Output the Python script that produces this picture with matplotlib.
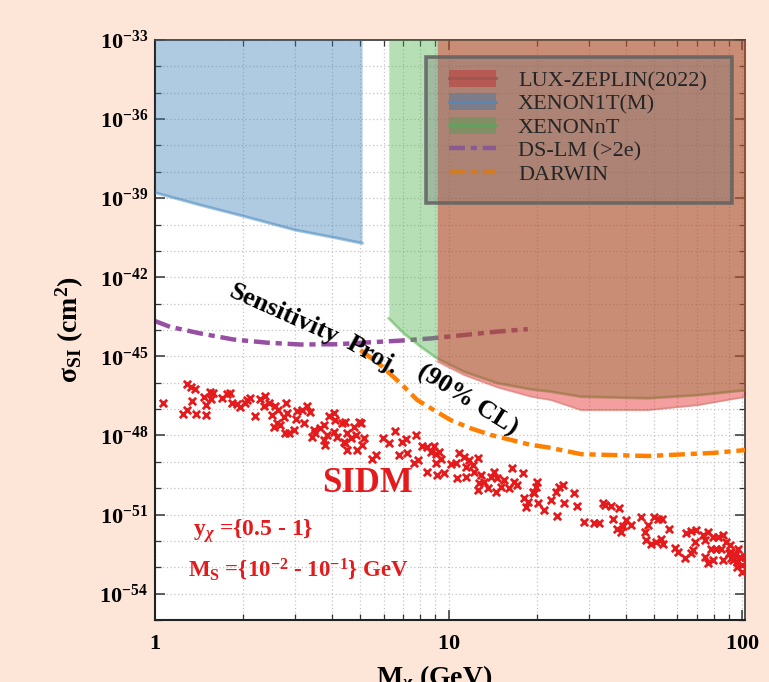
import numpy as np
import matplotlib
matplotlib.use('Agg')
import matplotlib.pyplot as plt
from matplotlib.patches import Patch, Rectangle
from matplotlib.lines import Line2D
from matplotlib.ticker import FixedLocator, NullFormatter, FuncFormatter

plt.rcParams['font.family'] = ['Liberation Serif', 'DejaVu Serif']
plt.rcParams['mathtext.fontset'] = 'custom'
plt.rcParams['mathtext.rm'] = 'Liberation Serif'
plt.rcParams['mathtext.it'] = 'Liberation Serif:italic:bold'
plt.rcParams['mathtext.bf'] = 'Liberation Serif:bold'

# ---------------- data ----------------
xenon1t_mass = [1.0, 1.426, 2.028, 3.006, 4.064, 5.07]
xenon1t_logsig = [-38.79, -39.26, -39.70, -40.21, -40.49, -40.71]

xenonnt_mass = [6.25, 7.03, 8.02, 9.14, 11.27, 14.66, 19.05, 22.28, 28.18, 47.64, 70.63, 103.3]
xenonnt_logsig = [-43.56, -44.13, -44.63, -45.08, -45.58, -46.02, -46.25, -46.34, -46.53, -46.59, -46.47, -46.28]

lz_mass = [9.14, 11.27, 14.66, 19.05, 22.28, 28.18, 47.64, 70.63, 103.3]
lz_logsig = [-45.20, -45.71, -46.18, -46.53, -46.66, -47.04, -47.04, -46.85, -46.53]

dslm_mass = [1.0, 1.125, 1.426, 1.849, 2.404, 3.126, 4.169, 5.14, 6.683, 8.69, 11.27, 14.66, 18.58]
dslm_logsig = [-43.66, -43.88, -44.13, -44.36, -44.48, -44.55, -44.54, -44.48, -44.41, -44.32, -44.19, -44.06, -43.97]

darwin_mass = [5.01, 5.86, 6.85, 7.82, 8.91, 10.16, 11.89, 13.9, 16.29, 19.05, 21.73, 28.25, 47.64, 80.17, 103.3]
darwin_logsig = [-44.76, -45.33, -46.02, -46.66, -47.04, -47.42, -47.73, -47.98, -48.17, -48.36, -48.45, -48.71, -48.78, -48.66, -48.55]

sidm_logmass = [
    0.026, 0.110, 0.122, 0.137, 0.125, 0.097, 0.110, 0.139, 0.173, 0.173,
    0.168, 0.188, 0.199, 0.191, 0.228, 0.245, 0.256, 0.262, 0.279, 0.290,
    0.307, 0.313, 0.322, 0.341, 0.358, 0.375, 0.370, 0.387, 0.398, 0.410,
    0.419, 0.415, 0.404, 0.427, 0.438, 0.447, 0.449, 0.444, 0.455, 0.472,
    0.480, 0.484, 0.501, 0.506, 0.518, 0.527, 0.540, 0.535, 0.546, 0.563,
    0.574, 0.574, 0.586, 0.591, 0.609, 0.614, 0.609, 0.620, 0.637, 0.648,
    0.654, 0.643, 0.654, 0.580,
    0.648, 0.666, 0.683, 0.677, 0.694, 0.702, 0.705, 0.688, 0.711, 0.777,
    0.796, 0.816, 0.842, 0.853, 0.887, 0.859, 0.830, 0.751, 0.740, 0.882,
    0.895, 0.910, 0.925, 0.939, 0.950, 0.956, 0.967, 0.973, 0.956, 0.925,
    0.961, 0.984, 1.007, 1.024, 1.027, 1.058, 1.035, 1.052, 1.069, 1.058,
    1.081, 1.098, 1.086, 1.109, 1.103, 1.098, 1.120, 1.132, 1.143, 1.155,
    1.166, 1.160, 1.177, 1.189, 1.206, 1.217, 1.223, 1.234, 1.252, 1.257,
    1.269, 1.286, 1.297, 1.263,
    1.300, 1.303, 1.291, 1.323, 1.348, 1.365, 1.376, 1.390, 1.394, 1.369,
    1.428, 1.437, 1.460, 1.494, 1.513, 1.525, 1.532, 1.553, 1.581, 1.559,
    1.573, 1.593, 1.604, 1.621, 1.587, 1.655, 1.667, 1.680, 1.672, 1.699,
    1.712, 1.727, 1.689, 1.706, 1.724, 1.729, 1.749, 1.769, 1.781, 1.803,
    1.809, 1.826, 1.843, 1.837, 1.832, 1.824, 1.866, 1.871, 1.883, 1.900,
    1.917, 1.934, 1.894, 1.911, 1.928, 1.871, 1.883, 1.900, 1.934, 1.945,
    1.957, 1.962, 1.974, 1.968, 1.980, 1.985, 1.991, 1.997, 1.997, 2.008,
    1.980, 1.962, 1.953,
]
sidm_logsig = [
    -46.76, -46.05, -46.15, -46.25, -46.68, -47.19, -47.04, -47.19, -47.23, -46.85,
    -46.53, -46.34, -46.40, -46.63, -46.59, -46.43, -46.38, -46.78, -46.82, -46.91,
    -46.78, -46.66, -46.58, -47.25, -46.63, -46.51, -46.89, -46.78, -47.23, -46.89,
    -47.04, -47.54, -47.69, -47.61, -47.29, -46.78, -47.16, -47.90, -47.92, -47.80,
    -47.39, -47.06, -47.04, -47.52, -46.89, -47.10, -47.80, -48.05, -47.92, -47.73,
    -47.61, -48.18, -47.99, -47.27, -47.16, -47.42, -47.86, -48.05, -47.54, -47.48,
    -47.92, -48.24, -48.56, -48.37,
    -48.30, -48.11, -47.99, -47.67, -47.48, -47.54, -48.37, -48.56, -48.11, -48.11,
    -48.30, -47.82, -48.24, -48.15, -47.99, -48.66, -48.74, -48.74, -48.91, -49.04,
    -48.93, -48.40, -48.43, -48.62, -48.40, -48.71, -48.62, -48.91, -49.04, -49.38,
    -49.50, -49.44, -49.09, -49.06, -49.63, -49.57, -48.68, -48.81, -48.93, -49.19,
    -49.13, -48.87, -49.38, -49.50, -49.82, -50.07, -49.76, -50.01, -49.57, -49.38,
    -49.63, -50.14, -49.95, -49.69, -50.01, -49.25, -49.76, -49.88, -49.44, -50.39,
    -50.52, -50.14, -49.95, -50.71,
    -49.76, -50.58, -50.20, -50.81, -50.45, -50.14, -49.95, -49.88, -50.58, -51.05,
    -50.18, -50.68, -51.28, -51.31, -51.31, -50.55, -50.62, -50.68, -50.74, -51.15,
    -51.56, -51.44, -51.21, -51.40, -51.65, -51.09, -51.65, -51.40, -51.97, -51.09,
    -51.18, -51.18, -52.10, -52.03, -51.91, -52.10, -51.56, -52.25, -52.41, -52.63,
    -51.69, -51.63, -51.59, -52.03, -52.35, -52.47, -51.78, -51.97, -51.65, -51.84,
    -51.84, -51.78, -52.29, -52.29, -52.29, -52.60, -52.85, -52.73, -52.73, -52.03,
    -52.16, -52.41, -52.54, -52.73, -52.79, -52.29, -52.60, -52.92, -53.17, -52.60,
    -52.98, -52.66, -52.45,
]

y_major_exp = [-54, -51, -48, -45, -42, -39, -36, -33]
x_major = [1, 10, 100]
legend_labels = ['LUX-ZEPLIN(2022)', 'XENON1T(M)', 'XENONnT', 'DS-LM (>2e)', 'DARWIN']

# ---------------- colours ----------------
C_RED = '#e41a1c'
C_BLUE = '#377eb8'
C_GREEN = '#4daf4a'
C_PURPLE = '#984ea3'
C_ORANGE = '#ff7f00'
BG = '#fde5d8'

W, H = 769, 682
fig = plt.figure(figsize=(W / 100, H / 100), dpi=100, facecolor=BG)
ax = fig.add_axes([155 / W, 1 - 620 / H, 590 / W, 580 / H])
ax.set_facecolor('white')
ax.set_xscale('log')
ax.set_yscale('log')
ax.set_xlim(1, 102)
ax.set_ylim(1e-55, 1e-33)

top = 1e-33
pw = lambda a: 10.0 ** np.asarray(a)

dash = (3.6, 1.3, 1.4, 1.3)
# DS-LM line (under the filled regions)
ax.plot(dslm_mass, pw(dslm_logsig), color=C_PURPLE, lw=3.2, dashes=dash, zorder=2)

# XENON1T(M)
ax.fill_between(xenon1t_mass, pw(xenon1t_logsig), top, color=C_BLUE, alpha=0.4, lw=0, zorder=3)
ax.plot(xenon1t_mass, pw(xenon1t_logsig), color=C_BLUE, alpha=0.45, lw=2.2, zorder=3)
# XENONnT
ax.fill_between(xenonnt_mass, pw(xenonnt_logsig), top, color=C_GREEN, alpha=0.4, lw=0, zorder=3)
ax.plot(xenonnt_mass, pw(xenonnt_logsig), color=C_GREEN, alpha=0.5, lw=2.0, zorder=3)
# LUX-ZEPLIN
ax.fill_between(lz_mass, pw(lz_logsig), top, color=C_RED, alpha=0.42, lw=0, zorder=3.1)
ax.plot(lz_mass, pw(lz_logsig), color='#c06050', alpha=0.35, lw=1.5, zorder=3.1)

# DARWIN
ax.plot(darwin_mass, pw(darwin_logsig), color=C_ORANGE, lw=3.2, dashes=dash, zorder=4)

# SIDM scatter
ax.scatter(pw(sidm_logmass), pw(sidm_logsig), marker='x', s=28, color=C_RED, linewidths=2.0, zorder=5)

# ---------------- axes styling ----------------
ax.xaxis.set_major_locator(FixedLocator(x_major))
minor_x = [m * d for d in (1, 10) for m in range(2, 10)] + [200]
ax.xaxis.set_minor_locator(FixedLocator(minor_x))
ax.xaxis.set_major_formatter(FuncFormatter(lambda v, p: r'$\mathbf{%d}$' % round(v)))
ax.xaxis.set_minor_formatter(NullFormatter())
ax.yaxis.set_major_locator(FixedLocator(pw(y_major_exp)))
minor_y = [e for e in range(-55, -32) if e not in y_major_exp]
ax.yaxis.set_minor_locator(FixedLocator(pw(minor_y)))
ax.yaxis.set_major_formatter(FuncFormatter(lambda v, p: r'$\mathbf{10^{%d}}$' % round(np.log10(v))))
ax.yaxis.set_minor_formatter(NullFormatter())

ax.tick_params(which='both', direction='in', top=True, right=True, color='#333333')
ax.tick_params(which='major', length=7, width=1.1, labelsize=16)
ax.tick_params(which='minor', length=4, width=0.9)
ax.tick_params(axis='y', which='major', pad=5)
ax.tick_params(axis='x', which='major', pad=11)
ax.grid(True, which='both', ls=(0, (1, 2)), color='#c4c4c4', lw=0.9, zorder=0)
ax.set_axisbelow(True)
for s in ['left', 'bottom']:
    ax.spines[s].set_color('#222222')
    ax.spines[s].set_linewidth(1.5)
for s in ['top', 'right']:
    ax.spines[s].set_color('#444444')
    ax.spines[s].set_linewidth(1.3)

# ---------------- legend ----------------
handles = [
    (Patch(facecolor=C_RED, alpha=0.55, lw=0), Line2D([], [], color='#b34a3c', lw=2)),
    (Patch(facecolor=C_BLUE, alpha=0.5, lw=0), Line2D([], [], color='#4f8fcc', lw=2)),
    (Patch(facecolor=C_GREEN, alpha=0.5, lw=0), Line2D([], [], color='#5db75a', lw=2)),
    Line2D([], [], color=C_PURPLE, lw=3.2, dashes=dash),
    Line2D([], [], color=C_ORANGE, lw=3.2, dashes=dash),
]
frame = Rectangle((426 / W, 1 - 203 / H), 306 / W, 146 / H, transform=fig.transFigure,
                  facecolor=(0.45, 0.45, 0.45, 0.33), edgecolor=(0.38, 0.38, 0.38, 0.85),
                  lw=2.6, zorder=6)
fig.add_artist(frame)
leg = ax.legend(handles, legend_labels, loc='upper left',
                bbox_to_anchor=(449 / W, 1 - 70 / H), bbox_transform=fig.transFigure,
                frameon=False, fontsize=16, borderpad=0, borderaxespad=0,
                handlelength=2.1, handleheight=0.8, handletextpad=1.0, labelspacing=0.1)
leg.set_zorder(7)

# ---------------- texts ----------------
def ftext(px, py, s, **kw):
    fig.text(px / W, 1 - py / H, s, **kw)

ftext(284, 314, 'Sensitivity', fontsize=19, fontweight='bold', rotation=-24,
      ha='center', va='center', rotation_mode='anchor', zorder=8)
ftext(373, 355, 'Proj.', fontsize=19, fontweight='bold', rotation=-29,
      ha='center', va='center', rotation_mode='anchor', zorder=8)
ftext(467, 400, '(90% CL)', fontsize=19, fontweight='bold', rotation=-32,
      ha='center', va='center', rotation_mode='anchor', zorder=8)

ftext(367, 484, 'SIDM', fontsize=25, fontweight='bold', color=C_RED, ha='center', va='center')
ftext(193, 531, r'y$_\chi$ ={0.5 - 1}', fontsize=17, fontweight='bold', color=C_RED,
      ha='left', va='center')
ftext(188, 569, r'M$_\mathbf{S}$ ={10$^\mathbf{-2}$ - 10$^\mathbf{-1}$} GeV', fontsize=16.5,
      fontweight='bold', color=C_RED, ha='left', va='center')

ftext(70, 330, r'σ$_\mathbf{SI}$ (cm$^\mathbf{2}$)', fontsize=20, fontweight='bold',
      rotation=90, ha='center', va='center')
ftext(434, 685, r'M$_\chi$ (GeV)', fontsize=20, fontweight='bold', ha='center', va='baseline')

fig.savefig('out.png', dpi=100, facecolor=BG)
